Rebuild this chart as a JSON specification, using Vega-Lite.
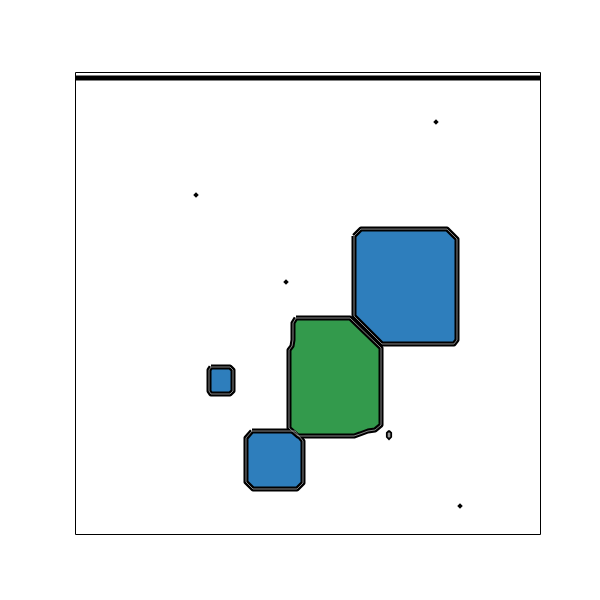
{
  "$schema": "https://vega.github.io/schema/vega-lite/v6.json",
  "width": 465,
  "height": 462,
  "autosize": {"type": "none"},
  "padding": {"left": 75, "top": 72, "right": 60, "bottom": 66},
  "background": "white",
  "config": {"view": {"stroke": "black", "strokeWidth": 1}},
  "data": {"values": [
    {"s": "b1", "c": "blue", "i": 0, "x": 6.0, "y": 6.45},
    {"s": "b1", "c": "blue", "i": 1, "x": 6.15, "y": 6.6},
    {"s": "b1", "c": "blue", "i": 2, "x": 8.0, "y": 6.6},
    {"s": "b1", "c": "blue", "i": 3, "x": 8.215, "y": 6.385},
    {"s": "b1", "c": "blue", "i": 4, "x": 8.215, "y": 4.199},
    {"s": "b1", "c": "blue", "i": 5, "x": 8.15, "y": 4.113},
    {"s": "b1", "c": "blue", "i": 6, "x": 6.602, "y": 4.113},
    {"s": "b1", "c": "blue", "i": 7, "x": 6.0, "y": 4.719},
    {"s": "b1", "c": "blue", "i": 8, "x": 6.0, "y": 6.45},
    {"s": "g1", "c": "green", "i": 0, "x": 4.753, "y": 4.675},
    {"s": "g1", "c": "green", "i": 1, "x": 5.914, "y": 4.675},
    {"s": "g1", "c": "green", "i": 2, "x": 6.581, "y": 4.026},
    {"s": "g1", "c": "green", "i": 3, "x": 6.581, "y": 2.359},
    {"s": "g1", "c": "green", "i": 4, "x": 6.452, "y": 2.251},
    {"s": "g1", "c": "green", "i": 5, "x": 6.301, "y": 2.229},
    {"s": "g1", "c": "green", "i": 6, "x": 6.129, "y": 2.165},
    {"s": "g1", "c": "green", "i": 7, "x": 6.0, "y": 2.121},
    {"s": "g1", "c": "green", "i": 8, "x": 4.796, "y": 2.121},
    {"s": "g1", "c": "green", "i": 9, "x": 4.602, "y": 2.294},
    {"s": "g1", "c": "green", "i": 10, "x": 4.602, "y": 3.983},
    {"s": "g1", "c": "green", "i": 11, "x": 4.667, "y": 4.069},
    {"s": "g1", "c": "green", "i": 12, "x": 4.688, "y": 4.199},
    {"s": "g1", "c": "green", "i": 13, "x": 4.688, "y": 4.567},
    {"s": "g1", "c": "green", "i": 14, "x": 4.753, "y": 4.675},
    {"s": "b2", "c": "blue", "i": 0, "x": 2.925, "y": 3.615},
    {"s": "b2", "c": "blue", "i": 1, "x": 3.333, "y": 3.615},
    {"s": "b2", "c": "blue", "i": 2, "x": 3.398, "y": 3.55},
    {"s": "b2", "c": "blue", "i": 3, "x": 3.398, "y": 3.095},
    {"s": "b2", "c": "blue", "i": 4, "x": 3.333, "y": 3.03},
    {"s": "b2", "c": "blue", "i": 5, "x": 2.925, "y": 3.03},
    {"s": "b2", "c": "blue", "i": 6, "x": 2.882, "y": 3.095},
    {"s": "b2", "c": "blue", "i": 7, "x": 2.882, "y": 3.55},
    {"s": "b2", "c": "blue", "i": 8, "x": 2.925, "y": 3.615},
    {"s": "b3", "c": "blue", "i": 0, "x": 3.806, "y": 2.229},
    {"s": "b3", "c": "blue", "i": 1, "x": 4.731, "y": 2.229},
    {"s": "b3", "c": "blue", "i": 2, "x": 4.903, "y": 2.013},
    {"s": "b3", "c": "blue", "i": 3, "x": 4.903, "y": 1.104},
    {"s": "b3", "c": "blue", "i": 4, "x": 4.774, "y": 0.974},
    {"s": "b3", "c": "blue", "i": 5, "x": 3.828, "y": 0.974},
    {"s": "b3", "c": "blue", "i": 6, "x": 3.677, "y": 1.126},
    {"s": "b3", "c": "blue", "i": 7, "x": 3.677, "y": 2.078},
    {"s": "b3", "c": "blue", "i": 8, "x": 3.806, "y": 2.229},
    {"s": "e1", "c": "ring", "i": 0, "x": 6.753, "y": 2.235},
    {"s": "e1", "c": "ring", "i": 1, "x": 6.8, "y": 2.19},
    {"s": "e1", "c": "ring", "i": 2, "x": 6.8, "y": 2.1},
    {"s": "e1", "c": "ring", "i": 3, "x": 6.753, "y": 2.05},
    {"s": "e1", "c": "ring", "i": 4, "x": 6.706, "y": 2.1},
    {"s": "e1", "c": "ring", "i": 5, "x": 6.706, "y": 2.19},
    {"s": "e1", "c": "ring", "i": 6, "x": 6.753, "y": 2.235},
    {"s": "t1", "c": "top", "i": 0, "x": 0.0, "y": 9.87},
    {"s": "t1", "c": "top", "i": 1, "x": 10.0, "y": 9.87},
    {"s": "p1", "c": "dot", "i": 0, "x": 7.763, "y": 8.918},
    {"s": "p2", "c": "dot", "i": 0, "x": 2.602, "y": 7.338},
    {"s": "p3", "c": "dot", "i": 0, "x": 4.538, "y": 5.455},
    {"s": "p4", "c": "dot", "i": 0, "x": 8.28, "y": 0.606}
  ]},
  "encoding": {
    "x": {"field": "x", "type": "quantitative", "scale": {"domain": [0, 10], "nice": false, "zero": false}, "axis": null},
    "y": {"field": "y", "type": "quantitative", "scale": {"domain": [0, 10], "nice": false, "zero": false}, "axis": null}
  },
  "layer": [
    {
      "transform": [{"filter": "datum.c == 'blue'"}],
      "mark": {"type": "line", "fill": "#2e7ebc", "stroke": "black", "strokeWidth": 5, "strokeJoin": "round"},
      "encoding": {"order": {"field": "i", "type": "quantitative"}, "detail": {"field": "s"}}
    },
    {
      "transform": [{"filter": "datum.c == 'green'"}],
      "mark": {"type": "line", "fill": "#339a4c", "stroke": "black", "strokeWidth": 5, "strokeJoin": "round"},
      "encoding": {"order": {"field": "i", "type": "quantitative"}, "detail": {"field": "s"}}
    },
    {
      "transform": [{"filter": "datum.c == 'blue' || datum.c == 'green'"}],
      "mark": {"type": "line", "stroke": "#a8a8a8", "strokeWidth": 0.8, "strokeJoin": "round"},
      "encoding": {"order": {"field": "i", "type": "quantitative"}, "detail": {"field": "s"}}
    },
    {
      "transform": [{"filter": "datum.c == 'ring'"}],
      "mark": {"type": "line", "stroke": "black", "strokeWidth": 1.8, "fill": "#999999"},
      "encoding": {"order": {"field": "i", "type": "quantitative"}, "detail": {"field": "s"}}
    },
    {
      "transform": [{"filter": "datum.c == 'top'"}],
      "mark": {"type": "line", "stroke": "black", "strokeWidth": 5},
      "encoding": {"order": {"field": "i", "type": "quantitative"}}
    },
    {
      "transform": [{"filter": "datum.c == 'dot'"}],
      "mark": {"type": "point", "shape": "diamond", "filled": true, "color": "black", "size": 30, "opacity": 1},
      "encoding": {}
    }
  ]
}
